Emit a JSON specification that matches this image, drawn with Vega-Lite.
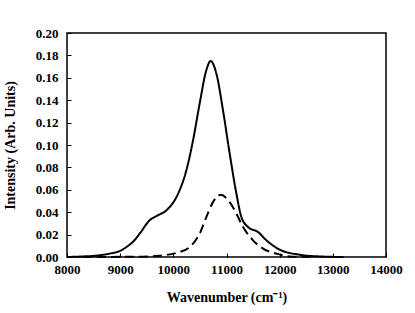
{
  "$schema": "https://vega.github.io/schema/vega-lite/v6.json",
  "width": 319,
  "height": 224,
  "autosize": "none",
  "padding": {"left": 67, "top": 33, "right": 29, "bottom": 56},
  "background": "white",
  "config": {
    "view": {"stroke": "black", "strokeWidth": 1.5},
    "font": "Liberation Serif",
    "axis": {
      "labelFont": "Liberation Serif",
      "labelFontWeight": "bold",
      "labelFontSize": 13,
      "labelColor": "black",
      "labelFlush": false,
      "labelOverlap": false,
      "titleFont": "Liberation Serif",
      "titleFontWeight": "bold",
      "titleFontSize": 14,
      "titleColor": "black",
      "grid": false,
      "domain": false,
      "ticks": true,
      "tickColor": "black",
      "tickSize": 4,
      "tickWidth": 1,
      "offset": -4
    }
  },
  "data": {
    "values": [
      {"x": 8000, "y": 0.0, "s": "A"},
      {"x": 8300, "y": 0.0005, "s": "A"},
      {"x": 8500, "y": 0.001, "s": "A"},
      {"x": 8800, "y": 0.003, "s": "A"},
      {"x": 9000, "y": 0.0055, "s": "A"},
      {"x": 9120, "y": 0.009, "s": "A"},
      {"x": 9250, "y": 0.014, "s": "A"},
      {"x": 9370, "y": 0.021, "s": "A"},
      {"x": 9550, "y": 0.0326, "s": "A"},
      {"x": 9700, "y": 0.037, "s": "A"},
      {"x": 9870, "y": 0.0417, "s": "A"},
      {"x": 10090, "y": 0.0566, "s": "A"},
      {"x": 10245, "y": 0.0774, "s": "A"},
      {"x": 10370, "y": 0.104, "s": "A"},
      {"x": 10495, "y": 0.137, "s": "A"},
      {"x": 10620, "y": 0.1667, "s": "A"},
      {"x": 10702, "y": 0.175, "s": "A"},
      {"x": 10810, "y": 0.1637, "s": "A"},
      {"x": 10934, "y": 0.131, "s": "A"},
      {"x": 11060, "y": 0.0923, "s": "A"},
      {"x": 11186, "y": 0.0566, "s": "A"},
      {"x": 11280, "y": 0.0357, "s": "A"},
      {"x": 11405, "y": 0.0268, "s": "A"},
      {"x": 11593, "y": 0.0223, "s": "A"},
      {"x": 11751, "y": 0.0149, "s": "A"},
      {"x": 12000, "y": 0.0066, "s": "A"},
      {"x": 12380, "y": 0.002, "s": "A"},
      {"x": 12750, "y": 0.0005, "s": "A"},
      {"x": 13200, "y": 0.0, "s": "A"},
      {"x": 8300, "y": 0.0, "s": "B"},
      {"x": 9430, "y": 0.0003, "s": "B"},
      {"x": 9740, "y": 0.0012, "s": "B"},
      {"x": 10056, "y": 0.0036, "s": "B"},
      {"x": 10307, "y": 0.0089, "s": "B"},
      {"x": 10495, "y": 0.0209, "s": "B"},
      {"x": 10621, "y": 0.0357, "s": "B"},
      {"x": 10746, "y": 0.049, "s": "B"},
      {"x": 10891, "y": 0.0555, "s": "B"},
      {"x": 11060, "y": 0.049, "s": "B"},
      {"x": 11186, "y": 0.0387, "s": "B"},
      {"x": 11311, "y": 0.0268, "s": "B"},
      {"x": 11499, "y": 0.0149, "s": "B"},
      {"x": 11687, "y": 0.0075, "s": "B"},
      {"x": 11939, "y": 0.003, "s": "B"},
      {"x": 12190, "y": 0.0005, "s": "B"},
      {"x": 12600, "y": 0.0, "s": "B"}
    ]
  },
  "mark": {"type": "line", "interpolate": "monotone", "color": "black", "strokeWidth": 2},
  "encoding": {
    "x": {
      "field": "x", "type": "quantitative",
      "scale": {"domain": [8000, 14000], "nice": false, "zero": false},
      "axis": {"values": [8000, 9000, 10000, 11000, 12000, 13000, 14000], "format": "d", "labelPadding": 6, "title": "Wavenumber (cm⁻¹)", "titlePadding": 14}
    },
    "y": {
      "field": "y", "type": "quantitative",
      "scale": {"domain": [0, 0.2], "nice": false},
      "axis": {"values": [0, 0.02, 0.04, 0.06, 0.08, 0.1, 0.12, 0.14, 0.16, 0.18, 0.2], "format": ".2f", "labelPadding": 9, "title": "Intensity (Arb. Units)", "titlePadding": 18}
    },
    "strokeDash": {
      "field": "s", "type": "nominal",
      "scale": {"domain": ["A", "B"], "range": [[1, 0], [9, 5]]},
      "legend": null
    }
  }
}
